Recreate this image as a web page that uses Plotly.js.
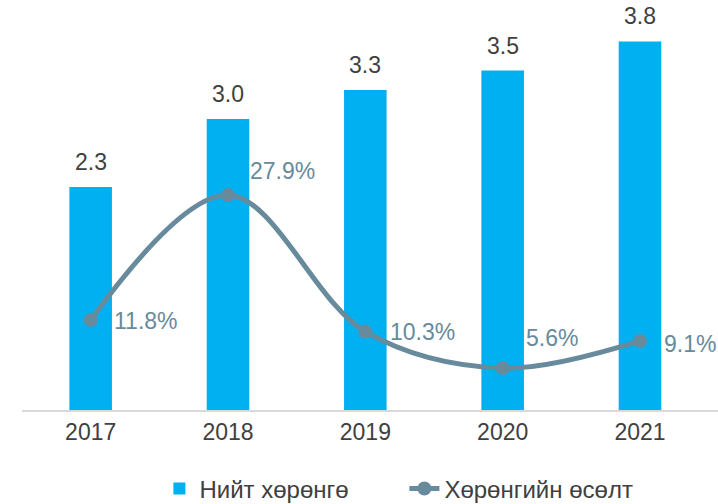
<!DOCTYPE html>
<html>
<head>
<meta charset="utf-8">
<script src="https://cdn.plot.ly/plotly-3.0.1.min.js"></script>
<style>html,body{margin:0;padding:0;background:#fff;}#chart{width:718px;height:504px;}</style>
</head>
<body>
<div id="chart"></div>
<script>
var years = ['2017', '2018', '2019', '2020', '2021'];
var totalAssets = [2.3, 3.0, 3.3, 3.5, 3.8];
var assetGrowth = [0.118, 0.279, 0.103, 0.056, 0.091];
var barName = 'Нийт хөрөнгө';
var lineName = 'Хөрөнгийн өсөлт';

var FONT = 'Liberation Sans, Arial, sans-serif';
var LINE_COLOR = '#678a9c';
// label placement offsets (pixels) for the growth labels
var growthLabelShift = [[21, -1], [20, 24], [23, 0], [21, 30], [22, -3]];

var traces = [
  {
    type: 'bar', x: years, y: totalAssets, name: barName,
    marker: {color: '#00b0f0'},
    hoverinfo: 'skip'
  },
  {
    type: 'scatter', mode: 'lines+markers', x: years, y: assetGrowth, name: lineName,
    yaxis: 'y2',
    line: {color: LINE_COLOR, width: 5, shape: 'spline', smoothing: 1},
    marker: {color: LINE_COLOR, size: 14},
    cliponaxis: false, hoverinfo: 'skip'
  }
];

var annotations = [];
years.forEach(function (yr, i) {
  annotations.push({
    x: i, y: totalAssets[i], xref: 'x', yref: 'y',
    text: totalAssets[i].toFixed(1), showarrow: false,
    xanchor: 'center', yanchor: 'bottom', yshift: 10,
    font: {family: FONT, size: 23, color: '#404040'}
  });
  annotations.push({
    x: i, y: assetGrowth[i], xref: 'x', yref: 'y2',
    text: (assetGrowth[i] * 100).toFixed(1) + '%', showarrow: false,
    xanchor: 'left', yanchor: 'middle',
    xshift: growthLabelShift[i][0], yshift: growthLabelShift[i][1],
    font: {family: FONT, size: 23, color: LINE_COLOR}
  });
});

var layout = {
  width: 718, height: 504,
  margin: {l: 22, r: 0, t: 22, b: 94, autoexpand: false},
  paper_bgcolor: '#fff', plot_bgcolor: '#fff',
  font: {family: FONT, color: '#404040'},
  bargap: 0.69,
  showlegend: true,
  legend: {orientation: 'h', xref: 'container', yref: 'container',
           x: 0.222, xanchor: 'left', y: 0.03, yanchor: 'middle',
           entrywidth: 200, entrywidthmode: 'pixels',
           font: {family: FONT, size: 24, color: '#404040'}, traceorder: 'normal'},
  xaxis: {type: 'category', categoryarray: years, categoryorder: 'array',
          showline: true, linecolor: '#d9d9d9', linewidth: 2,
          ticks: '', tickfont: {family: FONT, size: 23, color: '#404040'}, fixedrange: true},
  yaxis: {range: [0, 4], visible: false, showgrid: false, zeroline: false},
  yaxis2: {range: [0.002, 0.502], overlaying: 'y', side: 'right', visible: false, showgrid: false, zeroline: false},
  annotations: annotations
};
Plotly.newPlot('chart', traces, layout, {staticPlot: true, displayModeBar: false});
</script>
</body>
</html>
